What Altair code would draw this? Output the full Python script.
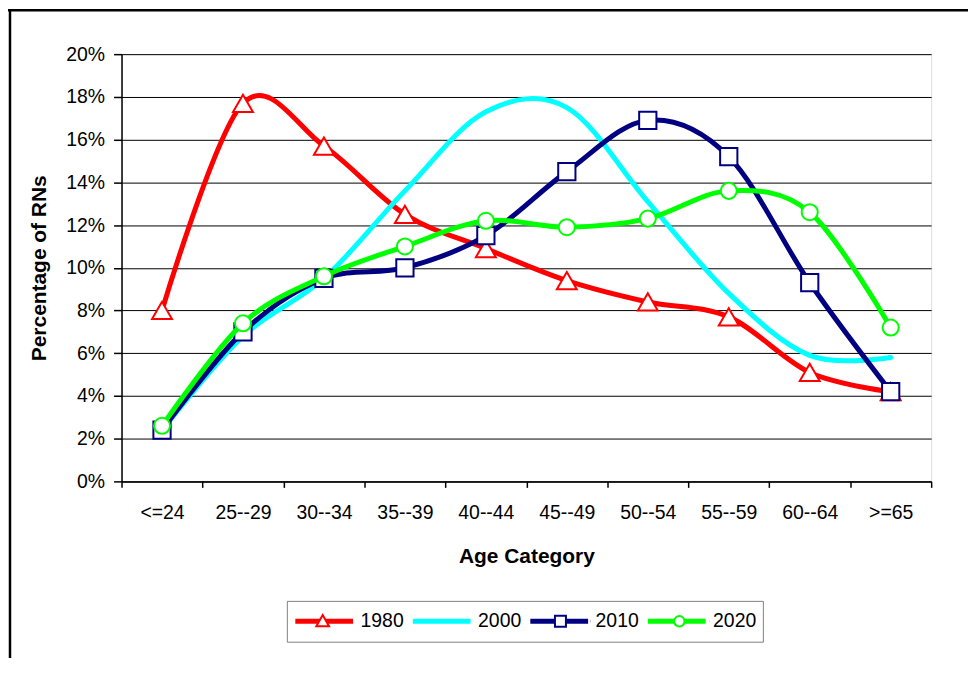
import altair as alt
import pandas as pd

ages = ["<=24", "25--29", "30--34", "35--39", "40--44", "45--49", "50--54", "55--59", "60--64", ">=65"]
years = ["1980", "2000", "2010", "2020"]
pct_1980 = [8.0, 17.7, 15.7, 12.5, 10.9, 9.4, 8.4, 7.7, 5.1, 4.2]
pct_2000 = [2.4, 6.8, 9.5, 13.6, 17.3, 17.5, 13.1, 8.8, 5.9, 5.8]
pct_2010 = [2.4, 7.0, 9.5, 10.0, 11.5, 14.5, 16.9, 15.2, 9.3, 4.2]
pct_2020 = [2.6, 7.4, 9.6, 11.0, 12.2, 11.9, 12.3, 13.6, 12.6, 7.2]
colors = ["#FF0000", "#00FFFF", "#000080", "#00FF00"]
y_ticks = list(range(0, 22, 2))

series = {"1980": pct_1980, "2000": pct_2000, "2010": pct_2010, "2020": pct_2020}
rows = []
for yr, vals in series.items():
    for a, v in zip(ages, vals):
        rows.append({"age": a, "year": yr, "pct": v})
df = pd.DataFrame(rows)

FONT = "Liberation Sans"
LABEL_FS = 19.5

x_enc = alt.X(
    "age:N", sort=ages, bandPosition=0.5,
    scale=alt.Scale(type="band", domain=ages, paddingInner=0, paddingOuter=0),
    axis=alt.Axis(tickBand="extent", grid=False, domainColor="black", domainWidth=1.5,
                  tickColor="black", tickSize=6, tickWidth=1.5, labelAngle=0,
                  labelFontSize=LABEL_FS, labelPadding=16, titleFontSize=21,
                  titleFontWeight="bold", titlePadding=24),
    title="Age Category")
y_enc = alt.Y(
    "pct:Q",
    scale=alt.Scale(domain=[0, 20], nice=False, zero=True),
    axis=alt.Axis(values=y_ticks, labelExpr="datum.value + '%'", grid=True,
                  gridColor="black", gridWidth=1, domainColor="black", domainWidth=1.5,
                  tickColor="black", tickSize=8, tickWidth=1.5, labelFontSize=LABEL_FS,
                  labelPadding=9, titleFontSize=21, titleFontWeight="bold", titlePadding=16),
    title="Percentage of RNs")

LX, LY = 166, 549
LPAD, CLIPH, COLPAD, LOFF = 6, 29, 6, 5
label_w = 4 * 0.556 * LABEL_FS
legend_a = alt.Legend(orient="none", legendX=LX, legendY=LY, direction="horizontal", columns=4,
                      title=None, symbolType="stroke", symbolSize=3364, symbolStrokeWidth=5,
                      clipHeight=CLIPH, labelFontSize=LABEL_FS, labelFont=FONT, labelColor="black",
                      labelOffset=LOFF, columnPadding=COLPAD, padding=LPAD,
                      strokeColor="#808080", fillColor="white")
color_enc = alt.Color("year:N", scale=alt.Scale(domain=years, range=colors), legend=legend_a)

base = alt.Chart(df)
layers = []
markers = {"1980": ("triangle-up", 400), "2010": ("square", 300), "2020": ("circle", 260)}
for i, yr in enumerate(years):
    layers.append(base.transform_filter(alt.datum.year == yr).mark_line(
        interpolate="cardinal", strokeWidth=5, strokeCap="round", strokeJoin="round"
    ).encode(x=x_enc, y=y_enc, color=color_enc))
    if yr in markers:
        shp, sz = markers[yr]
        layers.append(base.transform_filter(alt.datum.year == yr).mark_point(
            shape=shp, size=sz, filled=True, fill="white", stroke=colors[i], strokeWidth=2, opacity=1
        ).encode(x=x_enc, y=y_enc))

# marker overlay for the legend (no data drawn, labels empty)
lg_domain = ["L" + y for y in years]
edges = "M-1.05,0L-1.04,0M1.04,0L1.05,0"
legend_paths = [
    edges + "M0,-0.22L0.22,0.17L-0.22,0.17Z",
    edges,
    edges + "M-0.19,-0.19H0.19V0.19H-0.19Z",
    edges + "M-0.18,0A0.18,0.18 0 1,0 0.18,0A0.18,0.18 0 1,0 -0.18,0Z",
]
legend_b = alt.Legend(orient="none", legendX=LX, legendY=LY, direction="horizontal", columns=4,
                      title=None, symbolSize=3364, symbolStrokeWidth=2, symbolFillColor="white",
                      clipHeight=CLIPH, labelFontSize=LABEL_FS, labelFont=FONT, labelOffset=LOFF,
                      columnPadding=COLPAD + label_w + LOFF, padding=LPAD, labelExpr="''")
layers.append(base.transform_filter("false").mark_point(filled=True, fill="white", opacity=1).encode(
    shape=alt.Shape("lg:N", scale=alt.Scale(domain=lg_domain, range=legend_paths), legend=legend_b),
    stroke=alt.Stroke("lg:N", scale=alt.Scale(domain=lg_domain, range=colors), legend=legend_b)))

# outer frame
frame_data = alt.Data(values=[{"k": 0}])
layers.append(alt.Chart(frame_data).mark_rule(color="black", strokeWidth=2.5).encode(
    x=alt.value(-112), y=alt.value(-45), y2=alt.value(610)))
layers.append(alt.Chart(frame_data).mark_rule(color="black", strokeWidth=2.5).encode(
    x=alt.value(-114), x2=alt.value(850), y=alt.value(-44)))

chart = alt.layer(*layers).properties(
    width=813, height=429,
    autosize=alt.AutoSizeParams(type="none"),
    padding={"left": 114, "top": 45, "right": 41, "bottom": 176},
).configure_view(stroke="#808080", strokeWidth=1.5).configure_axis(
    labelFont=FONT, titleFont=FONT, labelColor="black", titleColor="black"
).configure(background="white")

chart.save("out.html", embed_options={"renderer": "svg", "actions": False})
